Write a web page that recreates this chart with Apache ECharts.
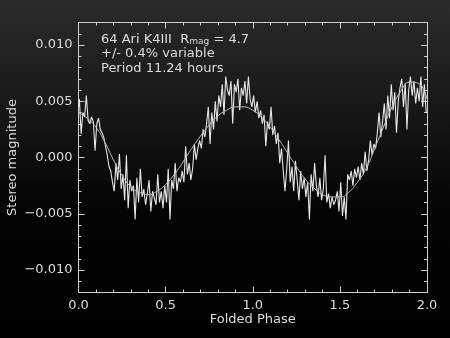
<!DOCTYPE html>
<html>
<head>
<meta charset="utf-8">
<script src="https://cdn.jsdelivr.net/npm/echarts@6/dist/echarts.min.js"></script>
<style>
html,body{margin:0;padding:0;}
#chart{width:450px;height:338px;background:linear-gradient(to bottom,#2b2b2b 0%,#161616 35%,#050505 60%,#000 100%);}
</style>
</head>
<body>
<div id="chart"></div>
<script>
// Folded phase sample step (0.01) and observed magnitudes
var phaseStart = 0, phaseStep = 0.01;
var observed = [
 0.0045, 0.0052, 0.0021, 0.0040, 0.0036, 0.0055, 0.0033, 0.0030, 0.0036, 0.0032,
 0.0006, 0.0030, 0.0035, 0.0025, 0.0022, 0.0018, 0.0010, 0.0002, -0.0008, -0.0012,
 -0.0022, -0.0030, -0.0005, -0.0020, 0.0003, -0.0028, -0.0015, -0.0038, 0.0002, -0.0045,
 -0.0020, -0.0030, -0.0025, -0.0055, -0.0018, -0.0040, -0.0010, -0.0035, -0.0028, -0.0042,
 -0.0032, -0.0020, -0.0048, -0.0030, -0.0036, -0.0042, -0.0015, -0.0040, -0.0030, -0.0045,
 -0.0025, -0.0040, -0.0010, -0.0055, -0.0020, -0.0028, -0.0005, -0.0030, -0.0018, -0.0022,
 -0.0012, -0.0022, 0.0010, -0.0015, -0.0005, -0.0020, -0.0010, 0.0012, -0.0002, 0.0008,
 0.0015, 0.0008, 0.0025, 0.0018, 0.0030, 0.0045, 0.0012, 0.0040, 0.0025, 0.0050,
 0.0032, 0.0055, 0.0045, 0.0065, 0.0038, 0.0072, 0.0060, 0.0055, 0.0068, 0.0030,
 0.0065, 0.0058, 0.0070, 0.0042, 0.0062, 0.0055, 0.0068, 0.0048, 0.0072, 0.0052,
 0.0045, 0.0055, 0.0040, 0.0050, 0.0035, 0.0042, 0.0030, 0.0038, 0.0010, 0.0032,
 0.0025, 0.0045, 0.0020, 0.0028, 0.0012, 0.0022, -0.0005, 0.0008, -0.0012, -0.0030,
 -0.0010, 0.0015, -0.0022, -0.0008, -0.0030, -0.0003, -0.0020, -0.0038, -0.0012, -0.0028,
 -0.0018, -0.0035, -0.0022, -0.0055, -0.0015, -0.0030, -0.0005, -0.0025, -0.0035, -0.0018,
 -0.0038, -0.0028, 0.0002, -0.0040, -0.0032, -0.0045, -0.0035, -0.0042, -0.0038, -0.0030,
 -0.0048, -0.0022, -0.0052, -0.0035, -0.0055, -0.0015, -0.0020, -0.0012, -0.0025, -0.0010,
 -0.0018, -0.0008, -0.0020, -0.0005, -0.0015, 0.0005, -0.0012, -0.0002, 0.0015, 0.0002,
 0.0012, 0.0008, 0.0022, 0.0040, 0.0018, 0.0032, 0.0048, 0.0025, 0.0055, 0.0035,
 0.0065, 0.0042, 0.0058, 0.0022, 0.0050, 0.0062, 0.0070, 0.0045, 0.0066, 0.0025,
 0.0060, 0.0072, 0.0055, 0.0068, 0.0048, 0.0062, 0.0050, 0.0072, 0.0045, 0.0065,
 0.0040
];
var fitPhase = [0.00,0.05,0.10,0.15,0.20,0.25,0.30,0.35,0.40,0.45,0.50,0.55,0.60,0.65,0.70,0.75,0.80,0.85,0.90,0.95,
 1.00,1.05,1.10,1.15,1.20,1.25,1.30,1.35,1.40,1.45,1.50,1.55,1.60,1.65,1.70,1.75,1.80,1.85,1.90,1.95,2.00];
var fitValues = [0.0040,0.0035,0.0027,0.0014,-0.0002,-0.0016,-0.0026,-0.0031,-0.0033,-0.0030,-0.0024,-0.0015,-0.0004,0.0008,0.0019,0.0029,0.0037,0.0042,0.0045,0.0045,
 0.0042,0.0036,0.0027,0.0016,0.0004,-0.0008,-0.0019,-0.0027,-0.0033,-0.0035,-0.0035,-0.0031,-0.0022,-0.0010,0.0008,0.0027,0.0045,0.0059,0.0067,0.0066,0.0052];
var xTicks = [0.0, 0.5, 1.0, 1.5, 2.0];
var yTicks = [-0.010, -0.005, 0.000, 0.005, 0.010];
var titleLines = ['64 Ari K4III  R{sub|mag} = 4.7', '+/- 0.4% variable', 'Period 11.24 hours'];

var FONT = 'DejaVu Sans';
var AX = '#d0d0d0';
var TXT = '#dcdcdc';

var obsData = observed.map(function(v,i){ return [+(phaseStart + i*phaseStep).toFixed(2), v]; });
var fitData = fitPhase.map(function(p,i){ return [p, fitValues[i]]; });

function yFmt(v){ return v.toFixed(3).replace('-', '\u2212'); }

var chart = echarts.init(document.getElementById('chart'), null, {renderer:'canvas'});
var yBase = {type:'value', min:-0.012, max:0.012, splitLine:{show:false}};
chart.setOption({
  backgroundColor:'transparent',
  animation:false,
  title:{
    text: titleLines.join('\n'),
    left: 96, top: 27,
    textStyle:{color:TXT, fontFamily:FONT, fontSize:13, fontWeight:'normal', lineHeight:14.5,
      rich:{sub:{fontSize:9, color:TXT, fontFamily:FONT, verticalAlign:'bottom', padding:[9,0,0,0], lineHeight:14.5}}}
  },
  grid:{left:78.5, right:23, top:22.5, bottom:45.5, containLabel:false, outerBoundsMode:'none'},
  xAxis:[
    {type:'value', min:0, max:2, interval:0.5, position:'bottom',
     name:'Folded Phase', nameLocation:'middle', nameGap:21, nameMoveOverlap:false,
     nameTextStyle:{color:TXT, fontFamily:FONT, fontSize:13},
     axisLine:{show:true, onZero:false, lineStyle:{color:AX, width:1}},
     axisTick:{show:true, inside:true, length:6, lineStyle:{color:AX}},
     minorTick:{show:true, splitNumber:5, length:3, lineStyle:{color:AX}},
     axisLabel:{color:TXT, fontFamily:FONT, fontSize:13, margin:7, formatter:function(v){return v.toFixed(1);}},
     splitLine:{show:false}},
    {type:'value', min:0, max:2, interval:0.5, position:'top',
     axisLine:{show:true, onZero:false, lineStyle:{color:AX, width:1}},
     axisTick:{show:true, inside:true, length:6, lineStyle:{color:AX}},
     minorTick:{show:true, splitNumber:5, length:3, lineStyle:{color:AX}},
     axisLabel:{show:false}, splitLine:{show:false}}
  ],
  yAxis:[
    Object.assign({}, yBase, {position:'left',
     name:'Stereo magnitude', nameLocation:'middle', nameGap:59, nameMoveOverlap:false,
     nameTextStyle:{color:TXT, fontFamily:FONT, fontSize:13},
     axisLine:{show:true, onZero:false, lineStyle:{color:AX, width:1}},
     axisTick:{show:true, inside:true, length:6, customValues:yTicks, lineStyle:{color:AX}},
     axisLabel:{color:TXT, fontFamily:FONT, fontSize:13, margin:6, customValues:yTicks, formatter:yFmt}}),
    Object.assign({}, yBase, {position:'left', interval:0.001,
     axisLine:{show:false, onZero:false},
     axisTick:{show:true, inside:true, length:3, lineStyle:{color:AX}},
     axisLabel:{show:false}}),
    Object.assign({}, yBase, {position:'right',
     axisLine:{show:true, onZero:false, lineStyle:{color:AX, width:1}},
     axisTick:{show:true, inside:true, length:6, customValues:yTicks, lineStyle:{color:AX}},
     axisLabel:{show:false}}),
    Object.assign({}, yBase, {position:'right', interval:0.001,
     axisLine:{show:false, onZero:false},
     axisTick:{show:true, inside:true, length:3, lineStyle:{color:AX}},
     axisLabel:{show:false}})
  ],
  series:[
    {type:'line', xAxisIndex:0, yAxisIndex:0, data:obsData, step:'middle', showSymbol:false,
     lineStyle:{color:'#e6e6e6', width:1.1}, clip:true, silent:true},
    {type:'line', xAxisIndex:0, yAxisIndex:0, data:fitData, smooth:true, showSymbol:false,
     lineStyle:{color:'#bdbdbd', width:1}, silent:true}
  ]
});
</script>
</body>
</html>
